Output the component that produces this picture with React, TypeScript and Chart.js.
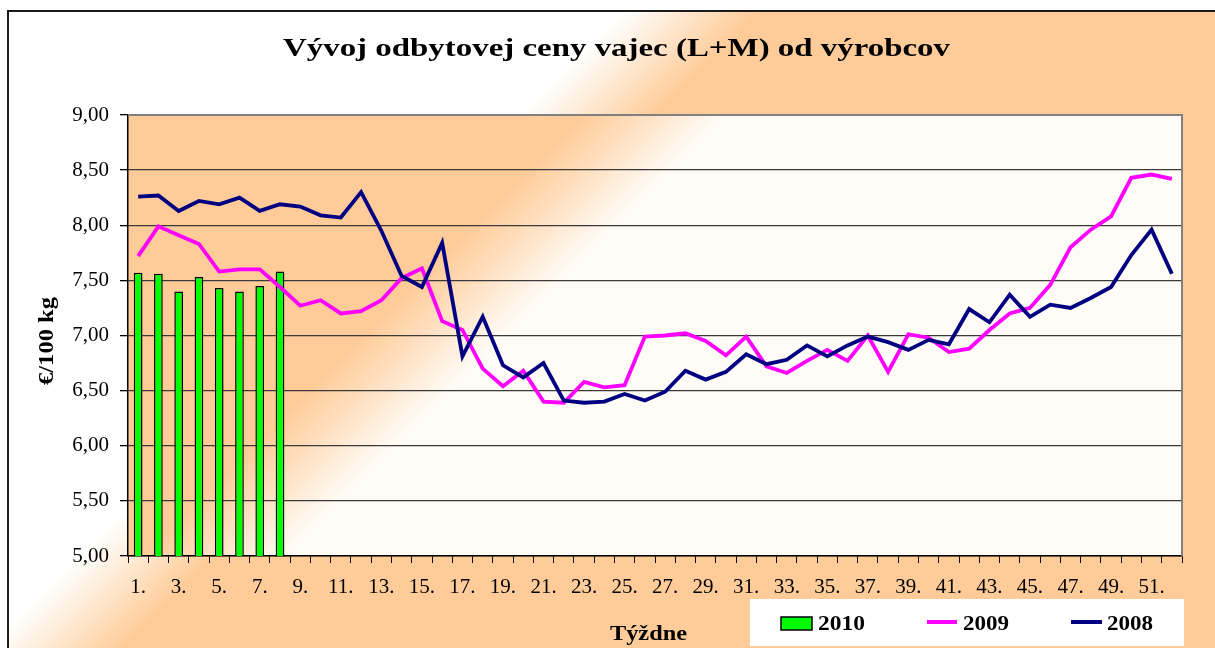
import React, { useEffect, useRef } from "react";
import { Chart, registerables } from "chart.js";

Chart.register(...registerables);

const weekLabels = [
  "1.", "2.", "3.", "4.", "5.", "6.", "7.", "8.", "9.", "10.",
  "11.", "12.", "13.", "14.", "15.", "16.", "17.", "18.", "19.", "20.",
  "21.", "22.", "23.", "24.", "25.", "26.", "27.", "28.", "29.", "30.",
  "31.", "32.", "33.", "34.", "35.", "36.", "37.", "38.", "39.", "40.",
  "41.", "42.", "43.", "44.", "45.", "46.", "47.", "48.", "49.", "50.",
  "51.", "52.",
];

const values2010 = [7.57, 7.56, 7.4, 7.53, 7.43, 7.4, 7.45, 7.58];

const values2009 = [
  7.72, 7.99, 7.91, 7.83, 7.58, 7.6, 7.6, 7.44, 7.27, 7.32,
  7.2, 7.22, 7.32, 7.52, 7.61, 7.13, 7.05, 6.7, 6.54, 6.68,
  6.4, 6.39, 6.58, 6.53, 6.55, 6.99, 7.0, 7.02, 6.95, 6.82,
  6.99, 6.72, 6.66, 6.77, 6.87, 6.77, 7.0, 6.67, 7.01, 6.98,
  6.85, 6.88, 7.05, 7.2, 7.25, 7.46, 7.8, 7.96, 8.08, 8.43,
  8.46, 8.42,
];

const values2008 = [
  8.26, 8.27, 8.13, 8.22, 8.19, 8.25, 8.13, 8.19, 8.17, 8.09,
  8.07, 8.3, 7.95, 7.54, 7.44, 7.84, 6.81, 7.17, 6.73, 6.62,
  6.75, 6.41, 6.39, 6.4, 6.47, 6.41, 6.49, 6.68, 6.6, 6.67,
  6.83, 6.74, 6.78, 6.91, 6.81, 6.91, 6.99, 6.94, 6.87, 6.96,
  6.92, 7.24, 7.12, 7.37, 7.17, 7.28, 7.25, 7.34, 7.44, 7.73,
  7.96, 7.56,
];

const seriesNames = ["2010", "2009", "2008"];
const TITLE = "Vývoj odbytovej ceny vajec (L+M) od výrobcov";
const Y_TITLE = "€/100 kg";
const X_TITLE = "Týždne";

const W = 1215;
const H = 648;
const ORANGE = "#FFCC99";
const PLOT_WHITE = "#FFFBF6";
const GREEN = "#00FF00";
const MAGENTA = "#FF00FF";
const NAVY = "#000080";
const SERIF = '"Liberation Serif", "Times New Roman", serif';

function fitText(ctx: CanvasRenderingContext2D, text: string, left: number, baseline: number, font: string, width: number) {
  ctx.save();
  ctx.font = font;
  ctx.textAlign = "left";
  ctx.textBaseline = "alphabetic";
  const w = ctx.measureText(text).width;
  ctx.translate(left, baseline);
  ctx.scale(width / w, 1);
  ctx.fillStyle = "#000";
  ctx.fillText(text, 0, 0);
  ctx.restore();
}

const decorPlugin = {
  id: "decor",
  beforeDraw(chart: any) {
    const ctx: CanvasRenderingContext2D = chart.ctx;
    const ca = chart.chartArea;
    ctx.save();
    ctx.fillStyle = "#FFFFFF";
    ctx.fillRect(0, 0, W, H);
    const g = ctx.createLinearGradient(0, 0, 700, 700);
    g.addColorStop(0, "#FFFFFF");
    g.addColorStop(0.455, "#FFFFFF");
    g.addColorStop(0.55, ORANGE);
    g.addColorStop(1, ORANGE);
    ctx.fillStyle = g;
    ctx.fillRect(8, 11, W, H);
    ctx.strokeStyle = "#1a1a1a";
    ctx.lineWidth = 2;
    ctx.strokeRect(8, 11, W + 20, H + 20);
    // plot area gradient
    const g2 = ctx.createLinearGradient(0, 0, 700, 700);
    g2.addColorStop(0, ORANGE);
    g2.addColorStop(0.5, ORANGE);
    g2.addColorStop(0.6, PLOT_WHITE);
    g2.addColorStop(1, PLOT_WHITE);
    ctx.fillStyle = g2;
    ctx.fillRect(ca.left, ca.top, ca.right - ca.left, ca.bottom - ca.top);
    ctx.restore();
  },
  afterDraw(chart: any) {
    const ctx: CanvasRenderingContext2D = chart.ctx;
    const ca = chart.chartArea;
    ctx.save();
    // plot border top/right
    ctx.strokeStyle = "#808080";
    ctx.lineWidth = 2;
    ctx.beginPath();
    ctx.moveTo(ca.left, ca.top);
    ctx.lineTo(ca.right, ca.top);
    ctx.lineTo(ca.right, ca.bottom);
    ctx.stroke();

    // title
    fitText(ctx, TITLE, 283, 55.5, `bold 26px ${SERIF}`, 667);

    // y title
    ctx.save();
    ctx.translate(53, 341);
    ctx.rotate(-Math.PI / 2);
    ctx.font = `bold 22px ${SERIF}`;
    const yw = ctx.measureText(Y_TITLE).width;
    ctx.scale(88 / yw, 1);
    ctx.textAlign = "center";
    ctx.textBaseline = "alphabetic";
    ctx.fillStyle = "#000";
    ctx.fillText(Y_TITLE, 0, 0);
    ctx.restore();

    // x title
    fitText(ctx, X_TITLE, 610, 640, `bold 22px ${SERIF}`, 77);

    // legend
    ctx.fillStyle = "#FFFFFF";
    ctx.fillRect(750, 599, 434, 47);
    ctx.fillStyle = GREEN;
    ctx.fillRect(781, 617, 31, 13);
    ctx.strokeStyle = "#000";
    ctx.lineWidth = 1.5;
    ctx.strokeRect(781, 617, 31, 13);
    fitText(ctx, seriesNames[0], 818, 630, `bold 21px ${SERIF}`, 47);
    ctx.lineWidth = 4;
    ctx.strokeStyle = MAGENTA;
    ctx.beginPath();
    ctx.moveTo(927, 622);
    ctx.lineTo(957, 622);
    ctx.stroke();
    fitText(ctx, seriesNames[1], 963, 630, `bold 21px ${SERIF}`, 46);
    ctx.strokeStyle = NAVY;
    ctx.beginPath();
    ctx.moveTo(1071, 622);
    ctx.lineTo(1102, 622);
    ctx.stroke();
    fitText(ctx, seriesNames[2], 1107, 630, `bold 21px ${SERIF}`, 46);
    ctx.restore();
  },
};

export default function App() {
  const ref = useRef<HTMLCanvasElement | null>(null);
  useEffect(() => {
    if (!ref.current) return;
    const chart = new Chart(ref.current, {
      type: "bar",
      data: {
        labels: weekLabels,
        datasets: [
          {
            type: "line",
            label: seriesNames[2],
            data: values2008,
            borderColor: NAVY,
            backgroundColor: NAVY,
            borderWidth: 3.8,
            pointRadius: 0,
            tension: 0,
            order: 1,
          } as any,
          {
            type: "line",
            label: seriesNames[1],
            data: values2009,
            borderColor: MAGENTA,
            backgroundColor: MAGENTA,
            borderWidth: 3.8,
            pointRadius: 0,
            tension: 0,
            order: 2,
          } as any,
          {
            type: "bar",
            label: seriesNames[0],
            data: values2010,
            backgroundColor: GREEN,
            borderColor: "#000",
            borderWidth: 1.5,
            barPercentage: 0.43,
            categoryPercentage: 1,
            order: 3,
          } as any,
        ],
      },
      options: {
        animation: false,
        responsive: false,
        devicePixelRatio: 1,
        layout: { padding: { left: 0, right: 33, top: 115, bottom: 0 } },
        plugins: {
          legend: { display: false },
          title: { display: false },
          tooltip: { enabled: false },
        },
        scales: {
          x: {
            grid: {
              display: true,
              drawOnChartArea: false,
              drawTicks: true,
              tickLength: 7,
              tickColor: "#000",
              offset: true,
            },
            border: { display: true, color: "#000", width: 1.5 },
            ticks: {
              autoSkip: false,
              maxRotation: 0,
              minRotation: 0,
              padding: 12,
              color: "#000",
              font: { family: SERIF, size: 21 },
              callback: (_v: any, i: number) => (i % 2 === 0 ? weekLabels[i] : ""),
            },
            afterFit: (s: any) => {
              s.height = 92;
            },
          },
          y: {
            min: 5,
            max: 9,
            ticks: {
              stepSize: 0.5,
              padding: 11,
              color: "#000",
              font: { family: SERIF, size: 21 },
              callback: (v: any) => Number(v).toFixed(2).replace(".", ","),
            },
            grid: { color: "#3a3a3a", lineWidth: 1.3, tickLength: 8, tickColor: "#000" },
            border: { display: true, color: "#000", width: 1.5 },
            afterFit: (s: any) => {
              s.width = 128;
            },
          },
        },
      } as any,
      plugins: [decorPlugin],
    });
    return () => chart.destroy();
  }, []);
  return (
    <div style={{ position: "absolute", left: 0, top: 0, width: W, height: H }}>
      <canvas ref={ref} width={W} height={H} style={{ display: "block", width: W, height: H }} />
    </div>
  );
}
